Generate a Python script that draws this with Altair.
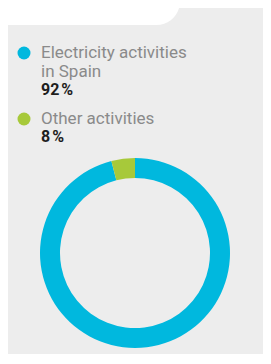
import altair as alt
import pandas as pd

# ---- data ----
categories = ["Electricity activities in Spain", "Other activities"]
label_lines = [["Electricity activities", "in Spain"], ["Other activities"]]
percent_labels = ["92\u202f%", "8\u202f%"]
drawn_shares = [96, 4]          # share of the ring as drawn
colors = ["#00b8de", "#a7c93a"]

W, H = 255, 346
BG = "#ededed"

df = pd.DataFrame({
    "category": categories,
    "share": drawn_shares,
    "idx": list(range(len(categories))),
})

# decorative white wave at the top of the card
wave = alt.Chart(pd.DataFrame({"k": [0]})).mark_rect(
    color="white", cornerRadiusBottomRight=26
).encode(
    x=alt.value(-10), x2=alt.value(172), y=alt.value(-30), y2=alt.value(17)
)

ring = alt.Chart(df).mark_arc(outerRadius=95, innerRadius=75, strokeWidth=0).encode(
    theta=alt.Theta("share:Q", stack=True),
    color=alt.Color("category:N", scale=alt.Scale(domain=categories, range=colors), legend=None),
    order=alt.Order("idx:Q"),
    x=alt.value(127),
    y=alt.value(245),
)

layers = [wave, ring]

FONT = "Roboto"
y_start = 45
line_gap = 19
for i, cat in enumerate(categories):
    base_y = y_start if i == 0 else y_start + 66
    one = pd.DataFrame({"category": [cat]})
    dot = alt.Chart(one).mark_point(filled=True, shape="circle", size=169, opacity=1).encode(
        x=alt.value(16), y=alt.value(base_y),
        color=alt.Color("category:N", scale=alt.Scale(domain=categories, range=colors), legend=None),
    )
    layers.append(dot)
    for j, line in enumerate(label_lines[i]):
        t = alt.Chart(pd.DataFrame({"t": [line]})).mark_text(
            align="left", baseline="middle", font=FONT, fontSize=17, color="#8a8a8a"
        ).encode(text="t:N", x=alt.value(33), y=alt.value(base_y + j * line_gap))
        layers.append(t)
    nlines = len(label_lines[i])
    p = alt.Chart(pd.DataFrame({"t": [percent_labels[i]]})).mark_text(
        align="left", baseline="middle", font=FONT, fontSize=16, fontWeight="bold", color="#1e1e1e"
    ).encode(text="t:N", x=alt.value(33), y=alt.value(base_y + nlines * line_gap - 1))
    layers.append(p)

chart = alt.layer(*layers).properties(
    width=W, height=H, background=BG, padding=0,
    autosize=alt.AutoSizeParams(type="none"),
).configure_view(stroke=None)

chart.save("out.html", embed_options={"renderer": "svg", "actions": False})
